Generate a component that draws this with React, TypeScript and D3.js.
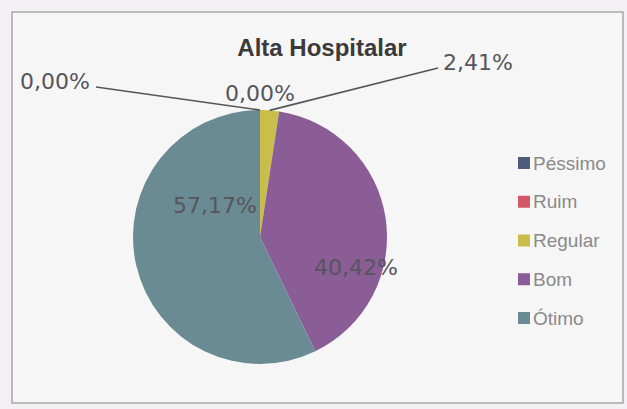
import React from 'react';
import * as d3 from 'd3';

const categories = ['Péssimo', 'Ruim', 'Regular', 'Bom', 'Ótimo'];
const values = [0.0, 0.0, 2.41, 40.42, 57.17];
const labels = ['0,00%', '0,00%', '2,41%', '40,42%', '57,17%'];
const colors = ['#4f5d7a', '#d4576a', '#c9bd4c', '#8a5d97', '#6b8b94'];

const W = 627;
const H = 409;

const App = () => {
  const cx = 260;
  const cy = 237;
  const r = 127;

  const pie = d3.pie<number>().sort(null).startAngle(0).endAngle(2 * Math.PI);
  const arcs = pie(values);
  const arc = d3.arc<d3.PieArcDatum<number>>().innerRadius(0).outerRadius(r);
  const inner = d3.arc<d3.PieArcDatum<number>>().innerRadius(r * 0.45).outerRadius(r * 0.75);

  // where each data label sits (outside ones get a leader line)
  const labelPos: Record<number, { x: number; y: number; anchor: string; lx?: number; ly?: number }> = {
    0: { x: 20, y: 81, anchor: 'start', lx: 96, ly: 87 },
    1: { x: 260, y: 93, anchor: 'middle' },
    2: { x: 443, y: 62, anchor: 'start', lx: 438, ly: 68 },
    3: { x: 356, y: 267, anchor: 'middle' },
    4: { x: 215, y: 205, anchor: 'middle' },
  };

  const legendY = d3.scalePoint<string>().domain(categories).range([163, 318]);

  return (
    <svg width={W} height={H} style={{ position: 'absolute', left: 0, top: 0, background: '#f3f1f3' }}
      fontFamily="Liberation Sans, Arial, sans-serif">
      <rect x={12} y={12} width={611} height={391} fill="#f7f6f7" stroke="#9c9c9c" strokeWidth={1.3} />
      <text x={322} y={56} textAnchor="middle" fontSize={24} fontWeight="bold" fill="#3a3a3a">Alta Hospitalar</text>

      {arcs.map((a, i) => (
        <path key={i} d={arc(a) || ''} transform={`translate(${cx},${cy})`} fill={colors[i]} />
      ))}

      {arcs.map((a, i) => {
        const p = labelPos[i];
        const mid = (a.startAngle + a.endAngle) / 2;
        const px = cx + Math.sin(mid) * r;
        const py = cy - Math.cos(mid) * r;
        const inside = p === undefined;
        const [ix, iy] = inner.centroid(a);
        return (
          <g key={i}>
            {p && p.lx !== undefined && (
              <polyline points={`${p.lx},${p.ly} ${px},${py}`} fill="none" stroke="#565656" strokeWidth={1.6} />
            )}
            <text x={inside ? cx + ix : p.x} y={inside ? cy + iy : p.y} textAnchor={inside ? 'middle' : p.anchor}
              dy="0.35em" fontSize={22} fontFamily="DejaVu Sans, sans-serif" fill="#55555c">
              {labels[i]}
            </text>
          </g>
        );
      })}

      {categories.map((c, i) => (
        <g key={c} transform={`translate(518,${legendY(c)})`}>
          <rect x={0} y={-6} width={12} height={12} fill={colors[i]} />
          <text x={15} y={0} dy="0.35em" fontSize={19} fill="#8a8a8a">{c}</text>
        </g>
      ))}
    </svg>
  );
};

export default App;
